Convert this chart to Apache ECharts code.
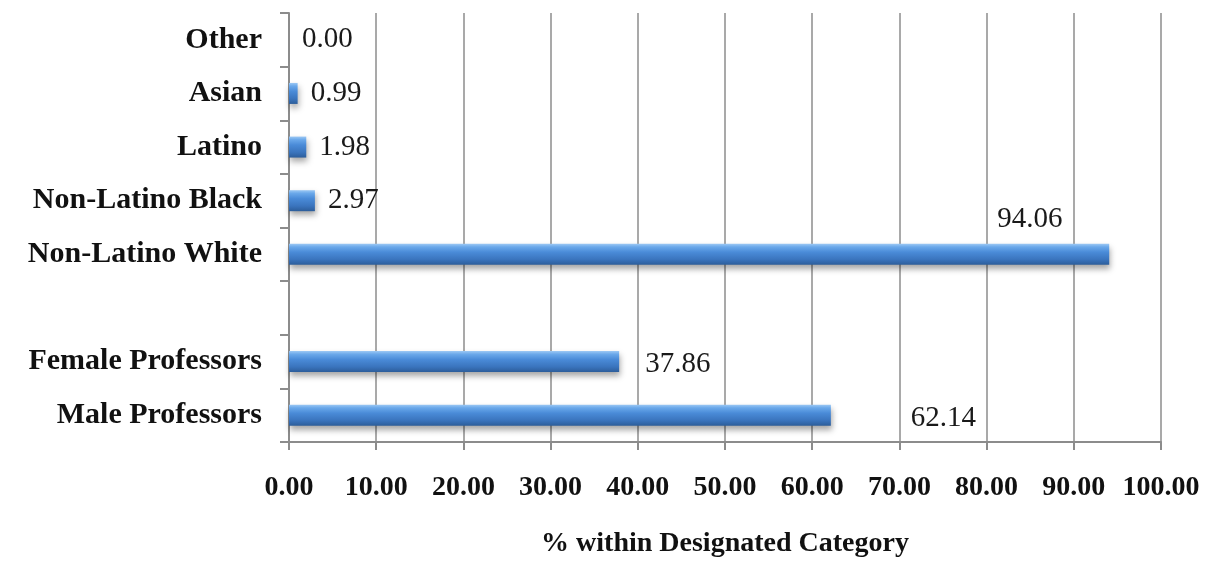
<!DOCTYPE html>
<html>
<head>
<meta charset="utf-8">
<script src="https://cdn.jsdelivr.net/npm/echarts@6/dist/echarts.min.js"></script>
<style>
  html, body { margin: 0; padding: 0; background: #ffffff; }
  #chart { width: 1209px; height: 563px; }
</style>
</head>
<body>
<div id="chart"></div>
<script>
// Categories from bottom to top; the empty slot separates the two groups.
const categories = [
  'Male Professors',
  'Female Professors',
  '',
  'Non-Latino White',
  'Non-Latino Black',
  'Latino',
  'Asian',
  'Other'
];
const percentValues = [62.14, 37.86, null, 94.06, 2.97, 1.98, 0.99, 0.00];
const xTickValues = [0, 10, 20, 30, 40, 50, 60, 70, 80, 90, 100];

// Label nudges for the long bars (in pixels, keyed by category index).
const labelNudge = { 0: [67, 3], 1: [13, 3], 3: [-125, -35] };

const FONT = '"Liberation Serif", "DejaVu Serif", serif';
const GRID_GRAY = '#8c8c8c';

const barFill = new echarts.graphic.LinearGradient(0, 0, 0, 1, [
  { offset: 0.00, color: '#9cc8f4' },
  { offset: 0.15, color: '#6aa8ea' },
  { offset: 0.40, color: '#4a8bd8' },
  { offset: 0.75, color: '#3a74bd' },
  { offset: 1.00, color: '#2c5d9a' }
]);

const seriesData = percentValues.map((v, i) => {
  const item = { value: v };
  if (v === null) {
    item.label = { show: false };
  } else if (labelNudge[i]) {
    item.label = { offset: labelNudge[i] };
  }
  return item;
});

const chart = echarts.init(document.getElementById('chart'), null, { renderer: 'canvas' });
chart.setOption({
  animation: false,
  backgroundColor: '#ffffff',
  grid: { left: 289, right: 48, top: 13, bottom: 116, containLabel: false },
  xAxis: {
    type: 'value',
    min: xTickValues[0],
    max: xTickValues[xTickValues.length - 1],
    interval: 10,
    name: '% within Designated Category',
    nameLocation: 'middle',
    nameGap: 88,
    nameTextStyle: { fontFamily: FONT, fontWeight: 'bold', fontSize: 28, color: '#111' },
    axisLine: { show: true, lineStyle: { color: GRID_GRAY, width: 2 } },
    axisTick: { show: true, length: 8, lineStyle: { color: GRID_GRAY, width: 2 } },
    axisLabel: {
      margin: 32,
      fontFamily: FONT, fontWeight: 'bold', fontSize: 28, color: '#111',
      formatter: v => v.toFixed(2)
    },
    splitLine: { show: true, lineStyle: { color: GRID_GRAY, width: 1.5 } }
  },
  yAxis: {
    type: 'category',
    data: categories,
    axisLine: { show: true, lineStyle: { color: GRID_GRAY, width: 2 } },
    axisTick: { show: true, length: 9, alignWithLabel: false, lineStyle: { color: GRID_GRAY, width: 2 } },
    axisLabel: {
      margin: 27,
      fontFamily: FONT, fontWeight: 'bold', fontSize: 30, color: '#111'
    },
    splitLine: { show: false }
  },
  series: [{
    type: 'bar',
    data: seriesData,
    barWidth: 21,
    itemStyle: {
      color: barFill,
      borderWidth: 0,
      shadowColor: 'rgba(0,0,0,0.35)',
      shadowBlur: 6,
      shadowOffsetY: 4,
      shadowOffsetX: 1
    },
    label: {
      show: true,
      position: 'right',
      distance: 13,
      fontFamily: FONT,
      fontSize: 29,
      color: '#1a1a1a',
      formatter: p => (p.value === null ? '' : Number(p.value).toFixed(2))
    }
  }]
});
</script>
</body>
</html>
